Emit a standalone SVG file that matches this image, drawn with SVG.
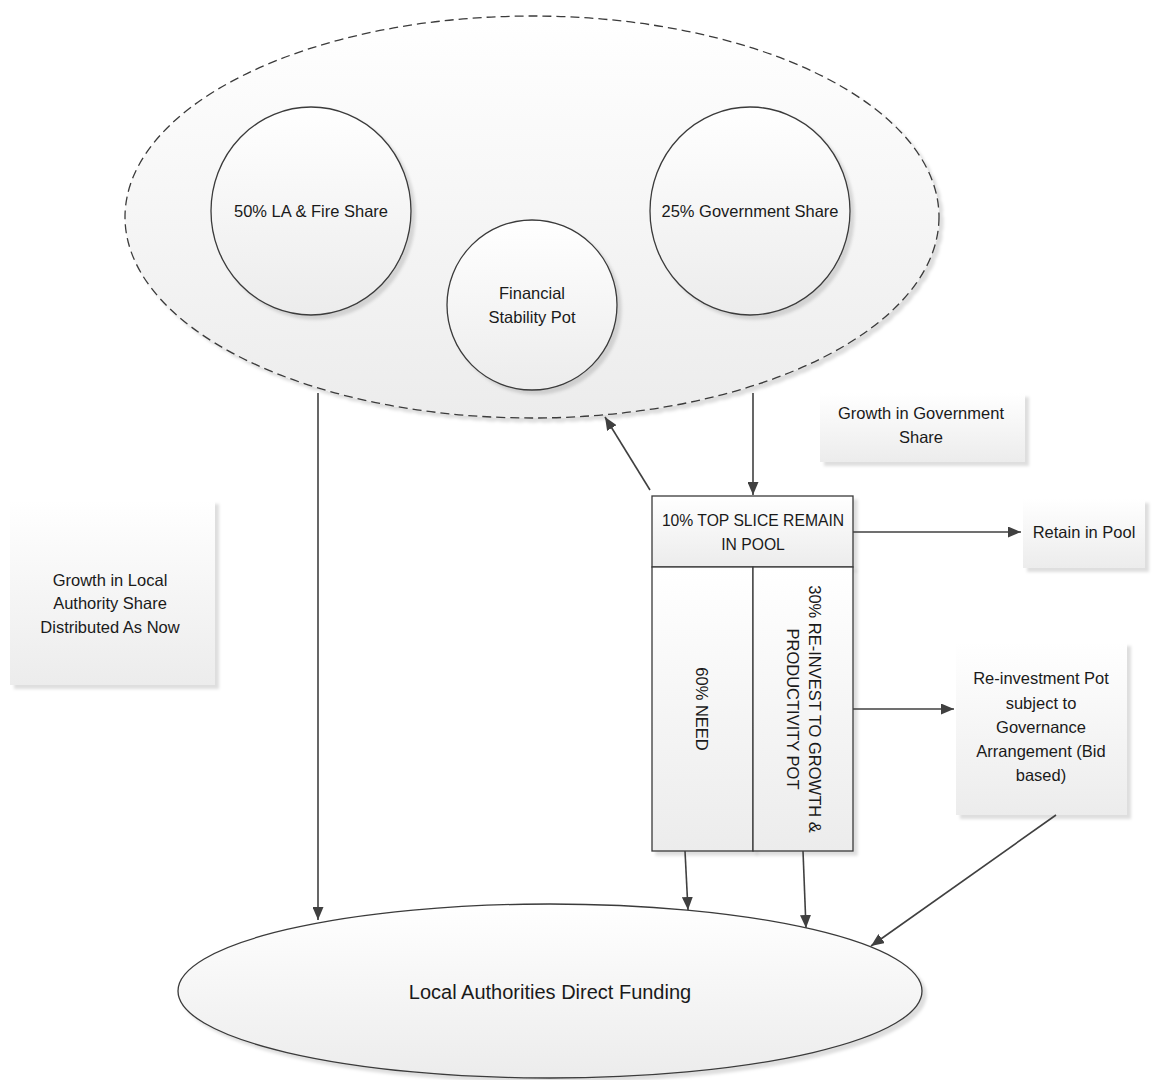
<svg xmlns="http://www.w3.org/2000/svg" width="1162" height="1080" viewBox="0 0 1162 1080">
<defs>
<linearGradient id="g" x1="0" y1="0" x2="0" y2="1"><stop offset="0" stop-color="#ffffff"/><stop offset="1" stop-color="#ececec"/></linearGradient>
<filter id="sh" x="-10%" y="-10%" width="125%" height="125%"><feDropShadow dx="4" dy="4" stdDeviation="1.5" flood-color="#000" flood-opacity="0.13"/></filter>
<marker id="ah" viewBox="0 0 13 11" refX="13" refY="5.5" markerWidth="13" markerHeight="11" markerUnits="userSpaceOnUse" orient="auto"><path d="M0,0 L13,5.5 L0,11 z" fill="#404040"/></marker>
<style>
.t{font-family:"Liberation Sans",Arial,sans-serif;font-size:16.5px;fill:#1a1a1a;text-anchor:middle;}
.ts{font-size:15.7px;}
.tb{font-family:"Liberation Sans",Arial,sans-serif;font-size:20px;fill:#1a1a1a;text-anchor:middle;}
.s{fill:url(#g);stroke:#3a3a3a;stroke-width:1.3;filter:url(#sh);}
.n{fill:url(#g);stroke:none;filter:url(#sh);}
.c{stroke:#404040;stroke-width:1.6;fill:none;marker-end:url(#ah);}
</style>
</defs>
<rect width="1162" height="1080" fill="#ffffff"/>
<g id="pool">
<ellipse cx="532" cy="217" rx="407" ry="201" fill="url(#g)" stroke="#3a3a3a" stroke-width="1.3" stroke-dasharray="9,5" filter="url(#sh)"/>
</g>
<g id="la-fire">
<ellipse class="s" cx="311" cy="211" rx="100" ry="104"/>
<text class="t" x="311" y="217">50% LA &amp; Fire Share</text>
</g>
<g id="gov">
<ellipse class="s" cx="750" cy="211" rx="100" ry="104"/>
<text class="t" x="750" y="217">25% Government Share</text>
</g>
<g id="fsp">
<ellipse class="s" cx="532" cy="305" rx="85" ry="85"/>
<text class="t" x="532" y="299">Financial</text>
<text class="t" x="532" y="323">Stability Pot</text>
</g>
<g id="growth-gov">
<rect class="n" x="820" y="393" width="205" height="69"/>
<text class="t" x="921" y="419">Growth in Government</text>
<text class="t" x="921" y="443">Share</text>
</g>
<g id="growth-la">
<rect class="n" x="10" y="500" width="205" height="185"/>
<text class="t" x="110" y="586">Growth in Local</text>
<text class="t" x="110" y="609">Authority Share</text>
<text class="t" x="110" y="633">Distributed As Now</text>
</g>
<g id="top-slice">
<rect class="s" x="652" y="496" width="201" height="71"/>
<text class="t ts" x="753" y="526">10% TOP SLICE REMAIN</text>
<text class="t ts" x="753" y="550">IN POOL</text>
</g>
<g id="need">
<rect class="s" x="652" y="567" width="101" height="284"/>
<text class="t" transform="translate(702,709) rotate(90)" y="6">60% NEED</text>
</g>
<g id="reinvest">
<rect class="s" x="753" y="567" width="100" height="284"/>
<text class="t" transform="translate(815,709) rotate(90)" y="6">30% RE-INVEST TO GROWTH &amp;</text>
<text class="t" transform="translate(793,709) rotate(90)" y="6">PRODUCTIVITY POT</text>
</g>
<g id="retain">
<rect class="n" x="1023" y="499" width="122" height="69"/>
<text class="t" x="1084" y="538">Retain in Pool</text>
</g>
<g id="reinvest-pot">
<rect class="n" x="956" y="642" width="171" height="173"/>
<text class="t" x="1041" y="684">Re-investment Pot</text>
<text class="t" x="1041" y="709">subject to</text>
<text class="t" x="1041" y="733">Governance</text>
<text class="t" x="1041" y="757">Arrangement (Bid</text>
<text class="t" x="1041" y="781">based)</text>
</g>
<g id="ladf">
<ellipse class="s" cx="550" cy="991" rx="372" ry="87"/>
<text class="tb" x="550" y="999">Local Authorities Direct Funding</text>
</g>
<g id="connectors">
<path class="c" d="M318,393 L318,920"/>
<path class="c" d="M753,393 L753,495"/>
<path class="c" d="M650,490 L605,417"/>
<path class="c" d="M853,532 L1021,532"/>
<path class="c" d="M853,709 L954,709"/>
<path class="c" d="M685,851 L688,910"/>
<path class="c" d="M803,851 L806,928"/>
<path class="c" d="M1056,815 L871,946"/>
</g>
</svg>
